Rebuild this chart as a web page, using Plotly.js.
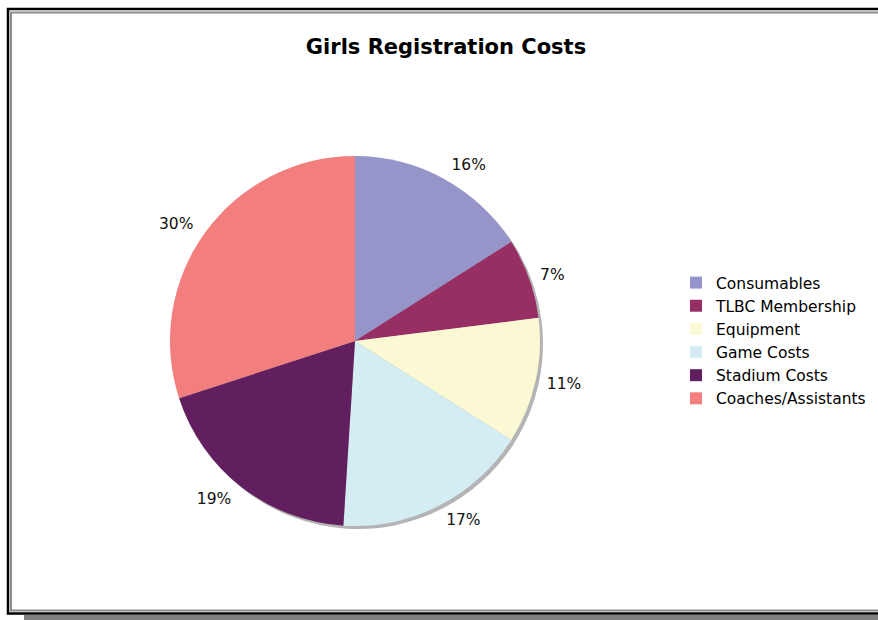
<!DOCTYPE html>
<html>
<head>
<meta charset="utf-8">
<script src="https://cdn.plot.ly/plotly-3.0.1.min.js"></script>
<style>html,body{margin:0;padding:0;background:#fff;}#chart{width:878px;height:620px;}</style>
</head>
<body>
<div id="chart"></div>
<script>
const categories = ["Consumables", "TLBC Membership", "Equipment", "Game Costs", "Stadium Costs", "Coaches/Assistants"];
const shares = [16, 7, 11, 17, 19, 30];
const sliceColors = ["#9595c9", "#982f64", "#fbf9d3", "#d3edf3", "#621f60", "#f27f7e"];
const chartTitle = "Girls Registration Costs";

const W = 878, H = 620;
const cx = 355, cy = 341, r = 185;
const fontFam = "DejaVu Sans, Verdana, sans-serif";

function dom(ox, oy, rr) {
  return {
    x: [(cx - rr + ox) / W, (cx + rr + ox) / W],
    y: [(H - cy - rr - oy) / H, (H - cy + rr - oy) / H]
  };
}

const common = {
  type: "pie",
  values: shares,
  labels: categories,
  sort: false,
  direction: "clockwise",
  rotation: 0
};

const shadow = Object.assign({}, common, {
  marker: {colors: categories.map(() => "#b4b4b4"), line: {width: 0}},
  textinfo: "none",
  hoverinfo: "skip",
  showlegend: false,
  domain: dom(3, 3, r)
});

const main = Object.assign({}, common, {
  marker: {colors: sliceColors, line: {width: 0}},
  textinfo: "none",
  domain: dom(0, 0, r)
});

// transparent, slightly larger ring that only carries the percentage labels
const labelRing = Object.assign({}, common, {
  marker: {colors: categories.map(() => "rgba(0,0,0,0)"), line: {width: 0}},
  textinfo: "percent",
  textposition: "outside",
  outsidetextfont: {family: fontFam, size: 15.5, color: "#111"},
  hoverinfo: "skip",
  showlegend: false,
  domain: dom(-1, 0, 193)
});

const layout = {
  width: W, height: H,
  margin: {l: 0, r: 0, t: 0, b: 0},
  paper_bgcolor: "#ffffff",
  showlegend: true,
  title: {
    text: "<b>" + chartTitle + "</b>",
    x: 446 / W, xanchor: "center",
    y: 1 - 47 / H, yanchor: "middle",
    font: {family: fontFam, size: 21, color: "#000"}
  },
  legend: {
    x: 676 / W, xanchor: "left",
    y: 1 - 266 / H, yanchor: "top",
    font: {family: fontFam, size: 15.5, color: "#000"},
    bgcolor: "rgba(0,0,0,0)",
    traceorder: "normal"
  },
  shapes: [
    {type: "rect", xref: "paper", yref: "paper", x0: 24 / W, x1: 1.01, y0: 0, y1: 1 - 615 / H,
     fillcolor: "#808080", line: {width: 0}, layer: "below"},
    {type: "rect", xref: "paper", yref: "paper", x0: 8 / W, x1: 1.05, y0: 1 - 613.5 / H, y1: 1 - 9 / H,
     fillcolor: "rgba(0,0,0,0)", line: {color: "#000", width: 2.5}},
    {type: "rect", xref: "paper", yref: "paper", x0: 11 / W, x1: 1.05, y0: 1 - 610.5 / H, y1: 1 - 12.5 / H,
     fillcolor: "rgba(0,0,0,0)", line: {color: "#8c8c8c", width: 2}}
  ]
};

Plotly.newPlot("chart", [shadow, main, labelRing], layout, {displayModeBar: false, staticPlot: true});
</script>
</body>
</html>
